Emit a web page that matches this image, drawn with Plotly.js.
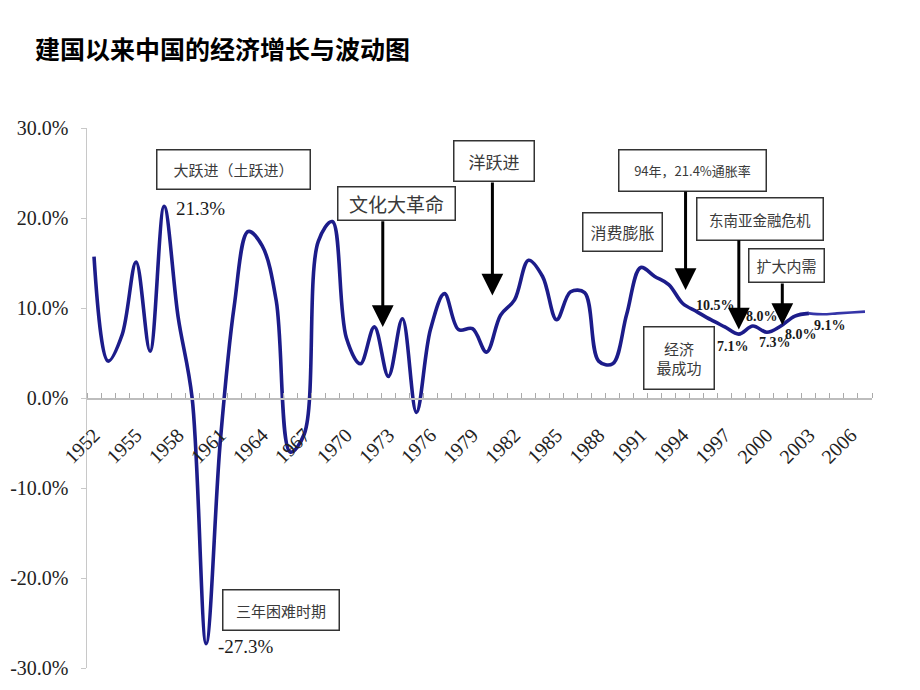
<!DOCTYPE html>
<html>
<head>
<meta charset="utf-8">
<script src="https://cdn.plot.ly/plotly-3.0.1.min.js"></script>
<style>
  html, body { margin: 0; padding: 0; background: #fff; }
  #chart { width: 920px; height: 690px; }
</style>
</head>
<body>
<div id="chart"></div>
<script>
// ---- data ----
const years = [];
for (let y = 1952; y <= 2007; y++) years.push(y);

const growth = [
  15.7, 4.1, 7.0, 15.1, 5.2, 21.3, 9.0, 0.0, -27.3, -5.0,
  10.2, 18.5, 16.9, 10.8, -6.0, -4.0, 17.4, 19.6, 6.7, 3.8,
  7.9, 2.4, 8.8, -1.6, 7.6, 11.6, 7.6, 7.7, 5.1, 9.2,
  10.9, 15.3, 13.5, 8.7, 11.8, 11.7, 4.1, 3.8, 9.3, 14.5,
  13.5, 12.6, 10.5, 9.6, 8.7, 7.9, 7.1, 8.0, 7.3, 8.0,
  9.1, 9.4, 9.3, 9.4, 9.5, 9.6
];

const tickYears = [1952,1955,1958,1961,1964,1967,1970,1973,1976,1979,1982,1985,1988,1991,1994,1997,2000,2003,2006];
const tickLabels = tickYears.map(String);
const yTickVals = [30, 20, 10, 0, -10, -20, -30];
const yTickText = ['30.0%','20.0%','10.0%','0.0%','-10.0%','-20.0%','-30.0%'];

const splitIdx = 51; // thinner tail segment starts here

const boxTexts = ['大跃进（土跃进）','文化大革命','洋跃进','消费膨胀','94年，21.4%通胀率','东南亚金融危机','扩大内需','经济<br>最成功','三年困难时期'];
const valueLabels = ['21.3%','-27.3%','10.5%','8.0%','7.1%','7.3%','8.0%','9.1%'];

// ---- traces ----
const main = {
  x: years.slice(0, splitIdx + 1),
  y: growth.slice(0, splitIdx + 1),
  type: 'scatter', mode: 'lines',
  line: {color: '#1c1c8a', width: 3.6, shape: 'spline', smoothing: 1},
  hoverinfo: 'skip'
};
const tail = {
  x: years.slice(splitIdx),
  y: growth.slice(splitIdx),
  type: 'scatter', mode: 'lines',
  line: {color: '#3535a8', width: 2.6, shape: 'spline', smoothing: 1},
  hoverinfo: 'skip'
};

const boxFont = (s) => ({family: '"Noto Sans CJK SC", sans-serif', size: s, color: '#3a3a3a'});
function box(text, x, y, w, h, size) {
  return {text, x, y, xref: 'x', yref: 'y', xanchor: 'center', yanchor: 'middle',
    showarrow: false, width: w, height: h, bordercolor: '#333', borderwidth: 1.5,
    bgcolor: 'rgba(255,255,255,1)', font: boxFont(size), align: 'center'};
}
function vlabel(text, x, y, size, bold) {
  return {text, x, y, xref: 'x', yref: 'y', xanchor: 'left', yanchor: 'middle', showarrow: false,
    font: {family: '"Liberation Serif", serif', size, color: '#1a1a1a', weight: bold ? 'bold' : 'normal'}};
}
function arrow(x, tip, tailv) {
  return {text: '', x, y: tip, ax: x, ay: tailv, xref: 'x', yref: 'y', axref: 'x', ayref: 'y',
    showarrow: true, arrowhead: 2, arrowsize: 1.45, arrowwidth: 3, arrowcolor: '#000', standoff: 0};
}

const annotations = [
  box(boxTexts[0], 1961.98, 25.44, 150, 36, 15),
  box(boxTexts[1], 1973.60, 21.56, 114, 30, 19),
  box(boxTexts[2], 1980.55, 26.28, 77, 37, 17),
  box(boxTexts[3], 1989.70, 18.5, 76, 35, 16),
  box(boxTexts[4], 1994.69, 25.33, 144, 38, 13),
  box(boxTexts[5], 1999.50, 19.94, 123, 39, 14.5),
  box(boxTexts[6], 2001.39, 14.67, 72, 30, 15),
  box(boxTexts[7], 1993.73, 4.5, 67, 59, 15),
  box(boxTexts[8], 1965.36, -23.5, 113, 37, 15),
  vlabel(valueLabels[0], 1957.70, 21.1, 19, false),
  vlabel(valueLabels[1], 1960.70, -27.56, 19, false),
  vlabel(valueLabels[2], 1994.77, 10.33, 14, true),
  vlabel(valueLabels[3], 1998.40, 9.11, 14, true),
  vlabel(valueLabels[4], 1996.33, 5.67, 14, true),
  vlabel(valueLabels[5], 1999.32, 6.22, 14, true),
  vlabel(valueLabels[6], 2001.17, 7.11, 14, true),
  vlabel(valueLabels[7], 2003.24, 8.11, 14, true),
  arrow(1972.6, 7.9, 19.8),
  arrow(1980.42, 11.4, 24.1),
  arrow(1994.2, 12.0, 23.1),
  arrow(1998.0, 7.6, 17.7),
  arrow(2001.1, 8.1, 12.9)
];

const layout = {
  width: 920, height: 690,
  paper_bgcolor: '#fff', plot_bgcolor: '#fff',
  margin: {l: 87, r: 48, t: 128, b: 22},
  showlegend: false,
  title: {
    text: '建国以来中国的经济增长与波动图',
    xref: 'container', yref: 'container', x: 0.038, y: 0.927, xanchor: 'left', yanchor: 'middle',
    font: {family: '"Noto Sans CJK SC", sans-serif', size: 25, color: '#000', weight: 'bold'}
  },
  xaxis: {
    range: [1951.5, 2007.5],
    anchor: 'free', position: 0.5,
    showline: true, linecolor: '#bdbdbd', linewidth: 1.5,
    showgrid: false, zeroline: false,
    tickmode: 'array', tickvals: tickYears, ticktext: tickLabels,
    ticks: '', tickangle: -45, ticklabelstandoff: 16,
    tickfont: {family: '"Liberation Serif", serif', size: 20, color: '#222'},
    minor: {tick0: 1951.5, dtick: 1, ticks: 'inside', ticklen: 5, tickcolor: '#aaa', tickwidth: 1, showgrid: false}
  },
  yaxis: {
    range: [-30, 30], domain: [0, 1],
    showline: true, linecolor: '#c8c8c8', linewidth: 1.5,
    showgrid: false, zeroline: false,
    tickmode: 'array', tickvals: yTickVals, ticktext: yTickText,
    ticks: 'outside', ticklen: 5, tickcolor: '#c8c8c8',
    ticklabelstandoff: 8,
    tickfont: {family: '"Liberation Serif", serif', size: 20, color: '#222'}
  },
  annotations
};

Plotly.newPlot('chart', [main, tail], layout, {staticPlot: true, displayModeBar: false});
</script>
</body>
</html>
